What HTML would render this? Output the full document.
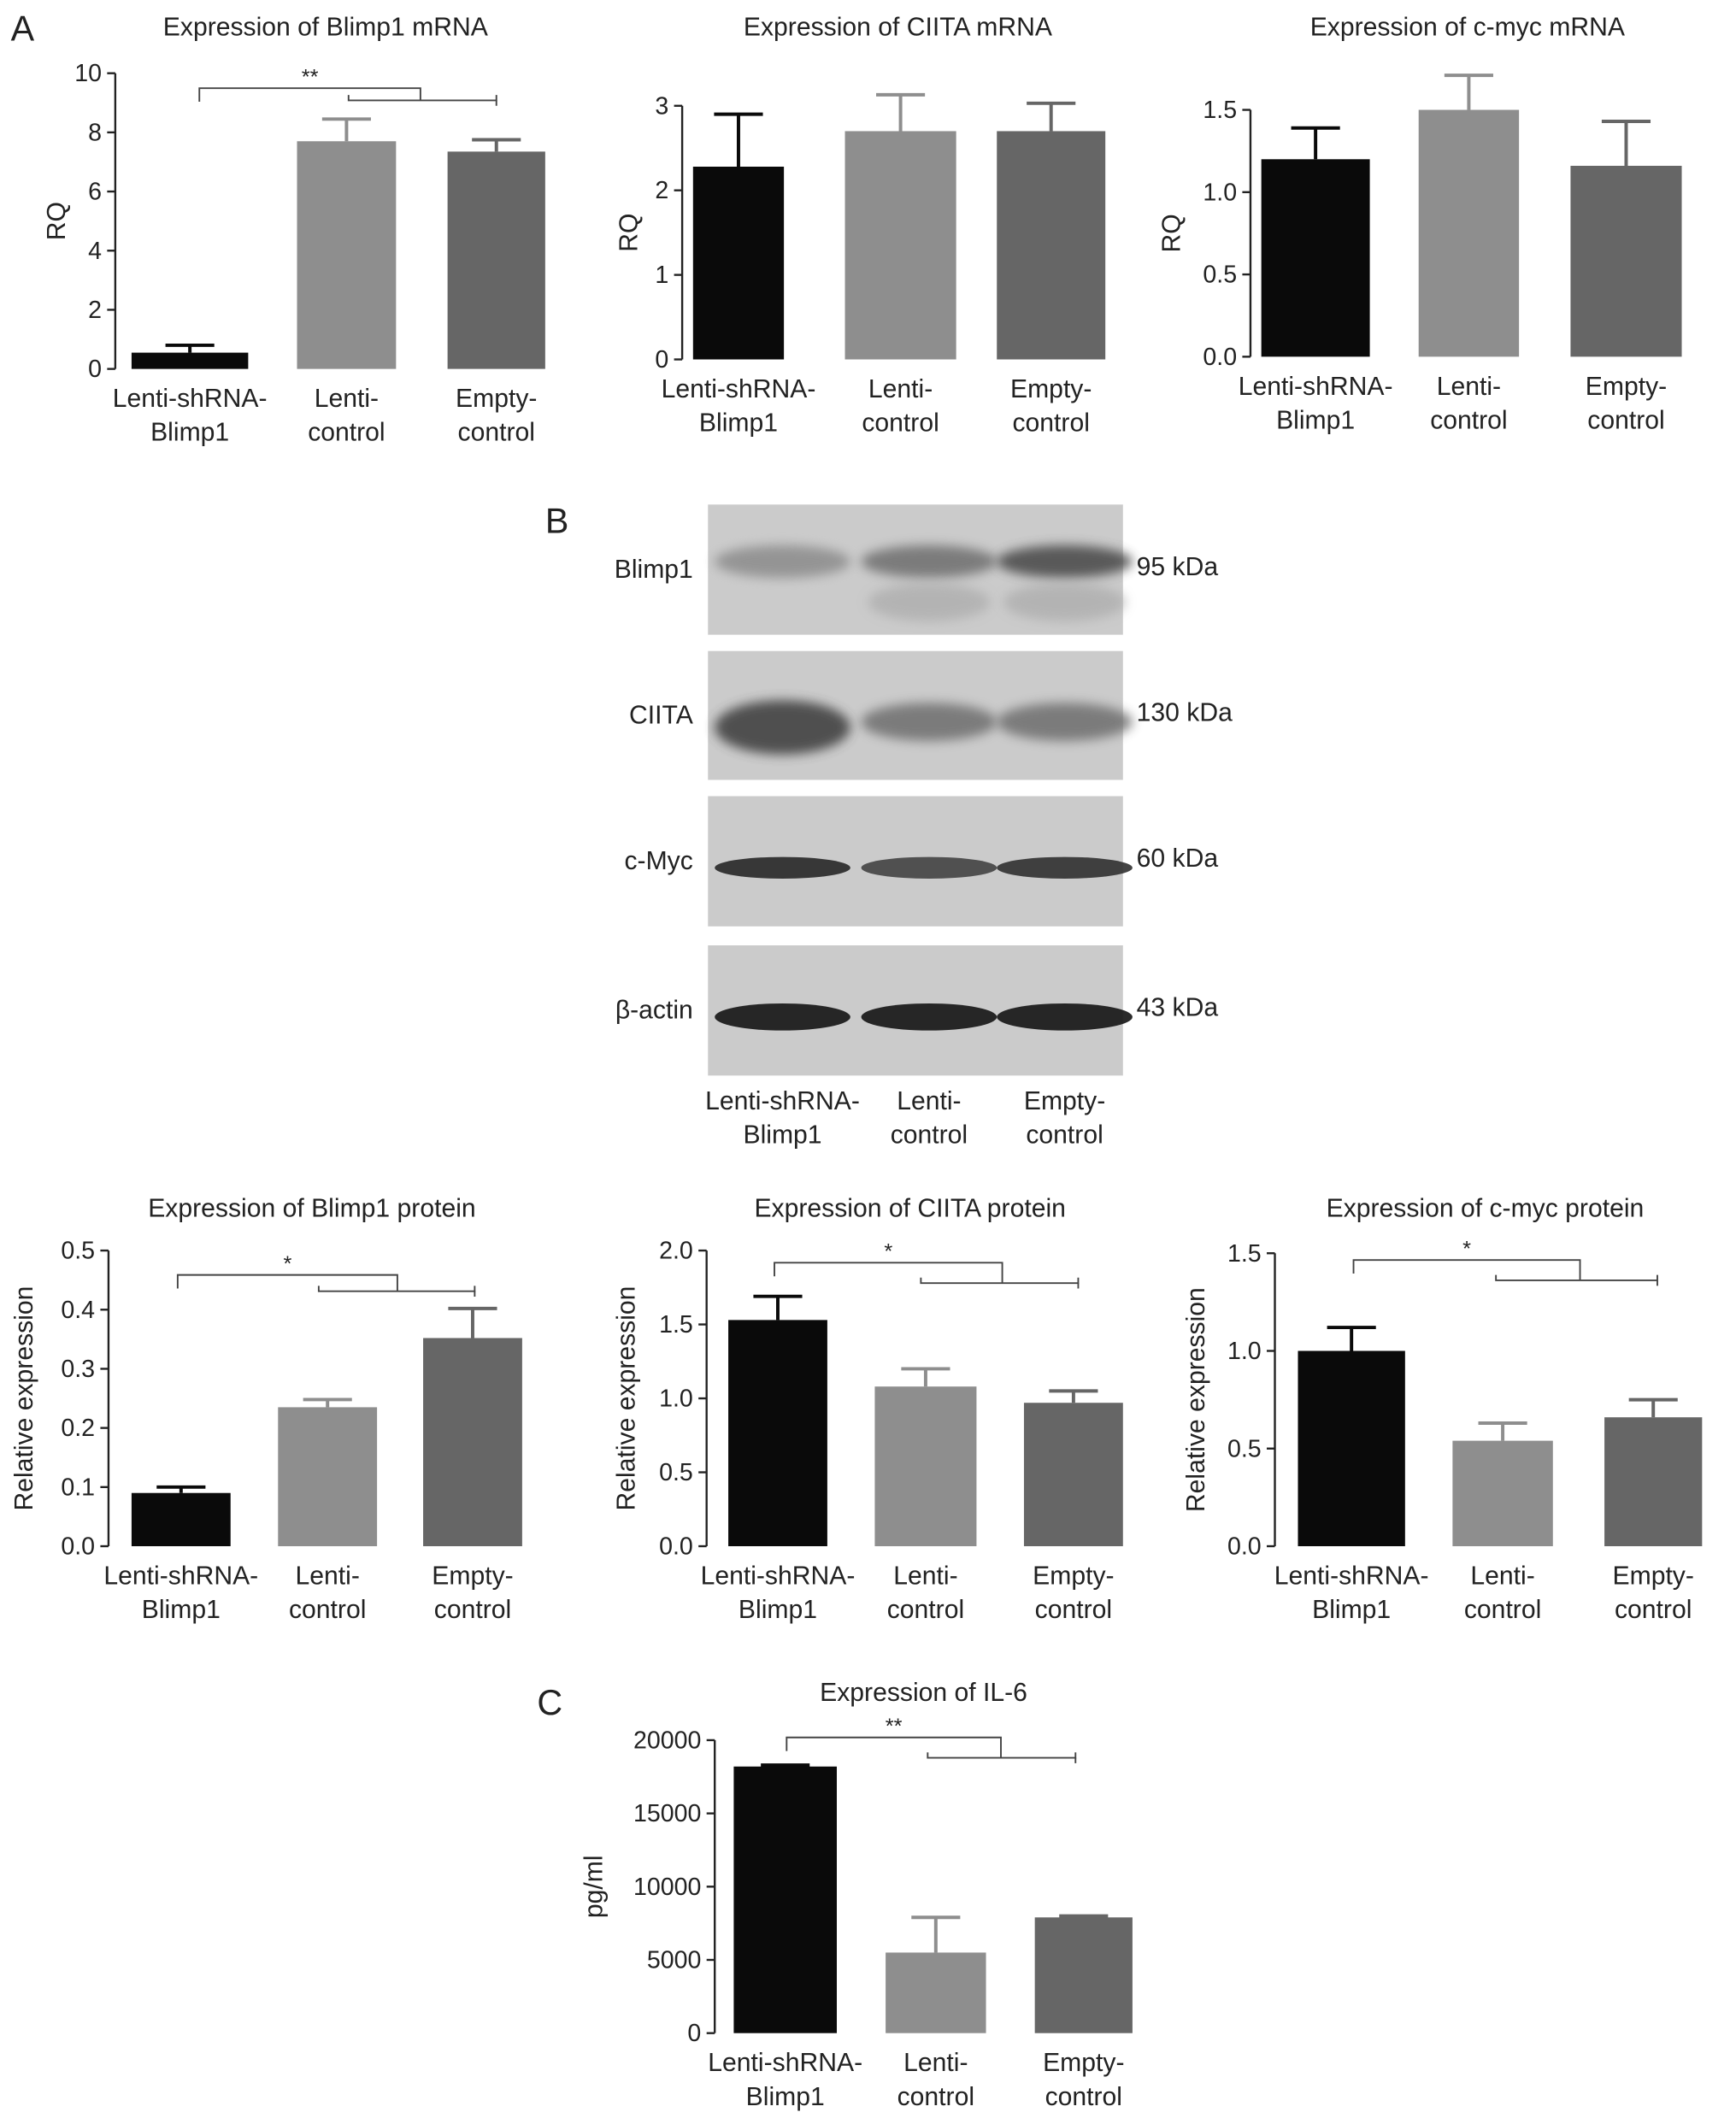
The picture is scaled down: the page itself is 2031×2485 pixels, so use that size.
<!DOCTYPE html>
<html><head><meta charset="utf-8"><style>
html,body{margin:0;padding:0;background:#fff}
svg{display:block}
text{font-family:"Liberation Sans",sans-serif;fill:#222}
</style></head><body>
<svg id="fig" width="2031" height="2485" viewBox="0 0 1280 1566" preserveAspectRatio="none" xmlns="http://www.w3.org/2000/svg">
<defs><filter id="blur" x="-20%" y="-100%" width="140%" height="300%"><feGaussianBlur stdDeviation="4"/></filter></defs>
<rect width="1280" height="1566" fill="#fff"/>
<text x="8" y="30" font-size="26">A</text>
<text x="402" y="393" font-size="26">B</text>
<text x="396" y="1264" font-size="26">C</text>
<g id="blot"></g>
</svg>
<script>
const categories = ["Lenti-shRNA-|Blimp1", "Lenti-|control", "Empty-|control"];
const blimpMrnaValues = [0.55, 7.7, 7.35];
const blimpMrnaErrors = [0.25, 0.75, 0.4];
const ciitaMrnaValues = [2.28, 2.7, 2.7];
const ciitaMrnaErrors = [0.62, 0.43, 0.33];
const mycMrnaValues = [1.2, 1.5, 1.16];
const mycMrnaErrors = [0.19, 0.21, 0.27];
const blimpProtValues = [0.09, 0.235, 0.352];
const blimpProtErrors = [0.01, 0.013, 0.05];
const ciitaProtValues = [1.53, 1.08, 0.97];
const ciitaProtErrors = [0.16, 0.12, 0.08];
const mycProtValues = [1.0, 0.54, 0.66];
const mycProtErrors = [0.12, 0.09, 0.09];
const il6Values = [18200, 5500, 7900];
const il6Errors = [100, 2400, 100];
const ticksA1 = [0, 2, 4, 6, 8, 10];
const ticksA2 = [0, 1, 2, 3];
const ticksA3 = ["0.0", "0.5", "1.0", "1.5"];
const ticksB1 = ["0.0", "0.1", "0.2", "0.3", "0.4", "0.5"];
const ticksB2 = ["0.0", "0.5", "1.0", "1.5", "2.0"];
const ticksB3 = ["0.0", "0.5", "1.0", "1.5"];
const ticksC = [0, 5000, 10000, 15000, 20000];

const NS = "http://www.w3.org/2000/svg";
const svg = document.getElementById("fig");
const colors = ["#0a0a0a", "#8e8e8e", "#666666"];
function el(tag, attrs, parent) {
  const e = document.createElementNS(NS, tag);
  for (const k in attrs) e.setAttribute(k, attrs[k]);
  (parent || svg).appendChild(e);
  return e;
}
function txt(x, y, s, size, anchor, parent, rot) {
  const t = el("text", {x: x, y: y, "font-size": size, "text-anchor": anchor || "middle"}, parent);
  if (rot) t.setAttribute("transform", "rotate(-90 " + x + " " + y + ")");
  t.textContent = s;
  return t;
}
function chart(cfg) {
  const g = el("g", {});
  
  
  const tmax = parseFloat(cfg.ticks[cfg.ticks.length - 1]);
  const y = v => cfg.y0 - (v / tmax) * (cfg.y0 - cfg.yTop);
  const t = txt(cfg.titleX, cfg.titleY, cfg.title, 19, "middle", g);
  
  
  el("line", {x1: cfg.ax, y1: cfg.yTop, x2: cfg.ax, y2: cfg.y0, stroke: "#222", "stroke-width": 1.5}, g);
  cfg.ticks.forEach(tk => {
    const yy = y(parseFloat(tk));
    el("line", {x1: cfg.ax - 6, y1: yy, x2: cfg.ax, y2: yy, stroke: "#222", "stroke-width": 1.5}, g);
    const tl = txt(cfg.ax - 10, yy + 6, String(tk), 18, "end", g);
    
    
  });
  const yl = txt(cfg.ylx, (cfg.y0 + cfg.yTop) / 2, cfg.ylabel, 19, "middle", g, true);
  
  
  cfg.values.forEach((v, i) => {
    const x0 = cfg.bars[i][0], x1 = cfg.bars[i][1], cx = (x0 + x1) / 2;
    const top = y(v + cfg.errors[i]);
    el("line", {x1: cx, y1: y(v), x2: cx, y2: top, stroke: colors[i], "stroke-width": 2.5}, g);
    el("line", {x1: cx - 18, y1: top, x2: cx + 18, y2: top, stroke: colors[i], "stroke-width": 2.5}, g);
    const r = el("rect", {x: x0, y: y(v), width: x1 - x0, height: cfg.y0 - y(v), fill: colors[i]}, g);
    
    
    const parts = categories[i].split("|");
    const l1 = txt(cx, cfg.y0 + 28, parts[0], 19, "middle", g);
    
    
    txt(cx, cfg.y0 + 53, parts[1], 19, "middle", g);
  });
  if (cfg.sig) {
    const s = cfg.sig;
    el("polyline", {points: `${s.a},${s.y1 + 10} ${s.a},${s.y1} ${s.b},${s.y1} ${s.b},${s.y2}`, fill: "none", stroke: "#444", "stroke-width": 1.2}, g);
    el("polyline", {points: `${s.c},${s.y2 - 4} ${s.c},${s.y2} ${s.d},${s.y2} ${s.d},${s.y2 - 4}`, fill: "none", stroke: "#444", "stroke-width": 1.2}, g);
    el("polyline", {points: `${s.d},${s.y2} ${s.d},${s.y2 + 4}`, fill: "none", stroke: "#444", "stroke-width": 1.2}, g);
    const st = txt((s.a + s.b) / 2, s.y1 - 3, s.label, 16, "middle", g);
    
    
  }
}
chart({name: "chart-blimp1-mrna", title: "Expression of Blimp1 mRNA", titleX: 240, titleY: 26, ax: 85, y0: 272, yTop: 54, ticks: ticksA1, ylabel: "RQ", ylx: 48,
  values: blimpMrnaValues, errors: blimpMrnaErrors, bars: [[97, 183], [219, 292], [330, 402]], sig: {a: 147, b: 310, y1: 65, c: 257, d: 366, y2: 74, label: "**"}});
chart({name: "chart-ciita-mrna", title: "Expression of CIITA mRNA", titleX: 662, titleY: 26, ax: 503, y0: 265, yTop: 78, ticks: ticksA2, ylabel: "RQ", ylx: 470,
  values: ciitaMrnaValues, errors: ciitaMrnaErrors, bars: [[511, 578], [623, 705], [735, 815]]});
chart({name: "chart-cmyc-mrna", title: "Expression of c-myc mRNA", titleX: 1082, titleY: 26, ax: 922, y0: 263, yTop: 81, ticks: ticksA3, ylabel: "RQ", ylx: 870,
  values: mycMrnaValues, errors: mycMrnaErrors, bars: [[930, 1010], [1046, 1120], [1158, 1240]]});
chart({name: "chart-blimp1-protein", title: "Expression of Blimp1 protein", titleX: 230, titleY: 897, ax: 80, y0: 1140, yTop: 922, ticks: ticksB1, ylabel: "Relative expression", ylx: 24,
  values: blimpProtValues, errors: blimpProtErrors, bars: [[97, 170], [205, 278], [312, 385]], sig: {a: 131, b: 293, y1: 940, c: 235, d: 350, y2: 952, label: "*"}});
chart({name: "chart-ciita-protein", title: "Expression of CIITA protein", titleX: 671, titleY: 897, ax: 521, y0: 1140, yTop: 922, ticks: ticksB2, ylabel: "Relative expression", ylx: 468,
  values: ciitaProtValues, errors: ciitaProtErrors, bars: [[537, 610], [645, 720], [755, 828]], sig: {a: 571, b: 739, y1: 931, c: 679, d: 795, y2: 946, label: "*"}});
chart({name: "chart-cmyc-protein", title: "Expression of c-myc protein", titleX: 1095, titleY: 897, ax: 940, y0: 1140, yTop: 924, ticks: ticksB3, ylabel: "Relative expression", ylx: 888,
  values: mycProtValues, errors: mycProtErrors, bars: [[957, 1036], [1071, 1145], [1183, 1255]], sig: {a: 998, b: 1165, y1: 929, c: 1103, d: 1222, y2: 944, label: "*"}});
chart({name: "chart-il6", title: "Expression of IL-6", titleX: 681, titleY: 1254, ax: 527, y0: 1499, yTop: 1283, ticks: ticksC, ylabel: "pg/ml", ylx: 444,
  values: il6Values, errors: il6Errors, bars: [[541, 617], [653, 727], [763, 835]], sig: {a: 580, b: 738, y1: 1281, c: 684, d: 793, y2: 1296, label: "**"}});

// western blot
const blot = document.getElementById("blot");
const bandNames = ["Blimp1", "CIITA", "c-Myc", "β-actin"];
const bandSizes = ["95 kDa", "130 kDa", "60 kDa", "43 kDa"];
const boxes = [[372, 468], [480, 575], [587, 683], [697, 793]];
const bandDark = [[0.3, 0.45, 0.65], [0.7, 0.45, 0.45], [0.85, 0.7, 0.8], [0.95, 0.95, 0.95]];
const lanes = [577, 685, 785];
boxes.forEach((b, i) => {
  el("rect", {x: 522, y: b[0], width: 306, height: b[1] - b[0], fill: "#cbcbcb"}, blot);
  const bandY = i === 0 ? b[0] + 42 : b[0] + (b[1] - b[0]) * 0.55;
  lanes.forEach((cx, j) => {
    const d = bandDark[i][j];
    const g = Math.round(200 - 190 * d);
    const ry = i === 3 ? 10 : (i === 1 ? (j === 0 ? 20 : 14) : (i === 0 ? 12 : 8));
    const e = el("ellipse", {cx: cx, cy: bandY + (i === 1 && j === 0 ? 4 : 0), rx: 50, ry: ry, fill: `rgb(${g},${g},${g})`, opacity: 0.9}, blot);
    if (i < 2) e.setAttribute("filter", "url(#blur)");
    if (i === 0 && j > 0) {
      el("ellipse", {cx: cx, cy: bandY + 30, rx: 45, ry: 14, fill: "#aaa", opacity: 0.7, filter: "url(#blur)"}, blot);
    }
  });
  const bl = txt(511, (b[0] + b[1]) / 2 + 6, bandNames[i], 19, "end", blot);
  
  
  const kl = txt(838, (b[0] + b[1]) / 2 + 4, bandSizes[i], 19, "start", blot);
  
  
});
lanes.forEach((cx, j) => {
  const parts = categories[j].split("|");
  const l = txt(cx, 818, parts[0], 19, "middle", blot);
  
  
  txt(cx, 843, parts[1], 19, "middle", blot);
});
</script>
</body></html>
